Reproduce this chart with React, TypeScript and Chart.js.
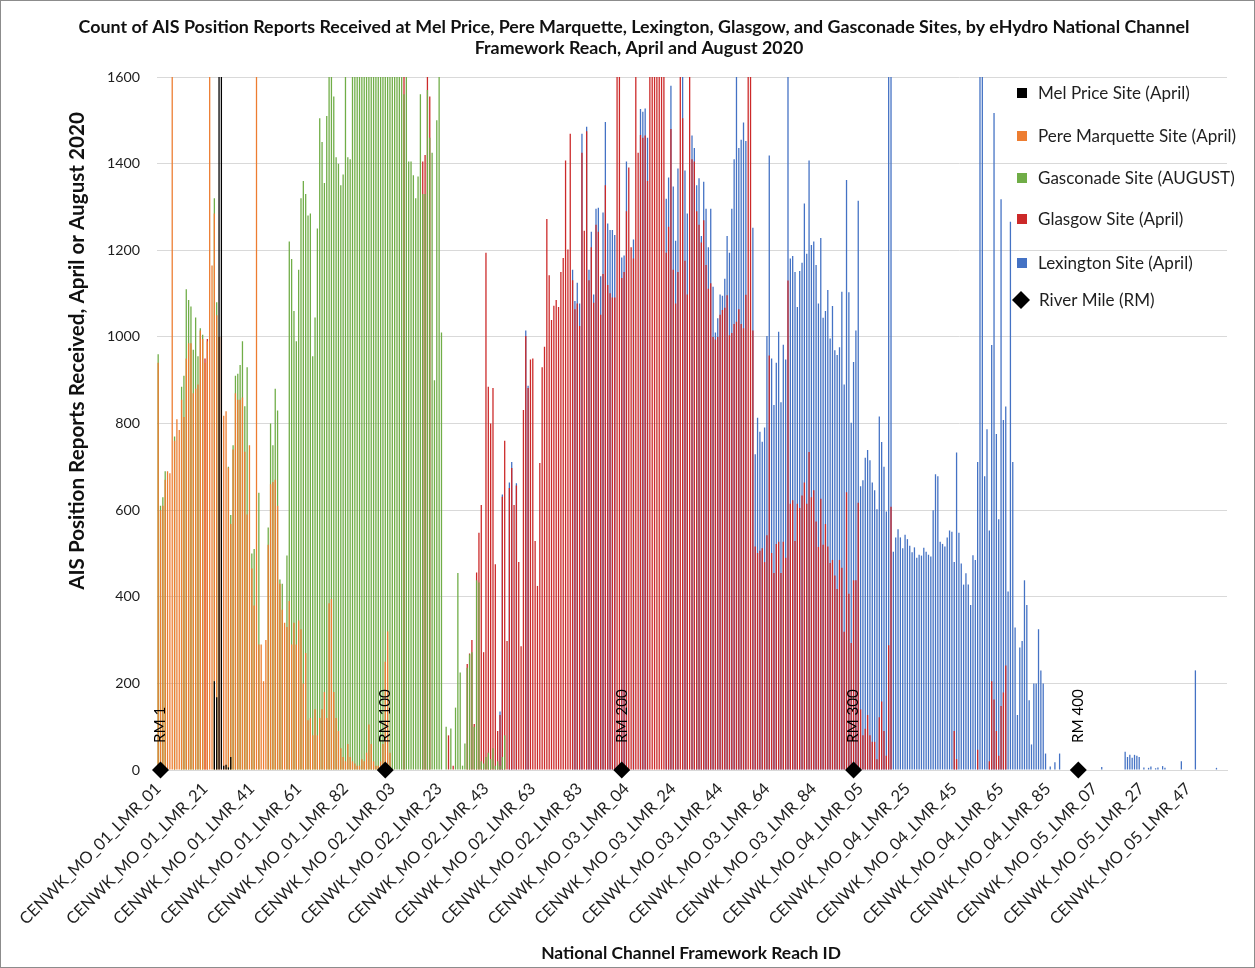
import { useEffect, useRef } from 'react';
import { Chart, registerables } from 'chart.js';

Chart.register(...registerables);

const W = 1255;
const H = 968;
const N = 457;
const FONT = 'Lato, "Noto Sans", sans-serif';

const titleLines = [
  'Count of AIS Position Reports Received at Mel Price, Pere Marquette, Lexington, Glasgow, and Gasconade Sites, by eHydro National Channel',
  'Framework Reach, April and August 2020',
];
const yTitle = 'AIS Position Reports Received, April or August 2020';
const xTitle = 'National Channel Framework Reach ID';

const tickLabels = [
  'CENWK_MO_01_LMR_01', 'CENWK_MO_01_LMR_21', 'CENWK_MO_01_LMR_41', 'CENWK_MO_01_LMR_61', 'CENWK_MO_01_LMR_82',
  'CENWK_MO_02_LMR_03', 'CENWK_MO_02_LMR_23', 'CENWK_MO_02_LMR_43', 'CENWK_MO_02_LMR_63', 'CENWK_MO_02_LMR_83',
  'CENWK_MO_03_LMR_04', 'CENWK_MO_03_LMR_24', 'CENWK_MO_03_LMR_44', 'CENWK_MO_03_LMR_64', 'CENWK_MO_03_LMR_84',
  'CENWK_MO_04_LMR_05', 'CENWK_MO_04_LMR_25', 'CENWK_MO_04_LMR_45', 'CENWK_MO_04_LMR_65', 'CENWK_MO_04_LMR_85',
  'CENWK_MO_05_LMR_07', 'CENWK_MO_05_LMR_27', 'CENWK_MO_05_LMR_47',
];
const tickEvery = 20;

const seriesNames = [
  'Mel Price Site (April)',
  'Pere Marquette Site (April)',
  'Gasconade Site (AUGUST)',
  'Glasgow Site (April)',
  'Lexington Site (April)',
];
const seriesColors = ['#000000', '#ED7D31', '#70AD47', '#CC2929', '#4472C4'];
const rmName = 'River Mile (RM)';

type Seg = [number, (number | null)[]];

const melPrice: Seg[] = [[24, [205, 168, 1800, 1800, 10, 12, 6, 30]]];

const pereMarquette: Seg[] = [[0, [
  940, 600, 610, 670, 690, 685, 1800, 760, 810, 785,
  855, 815, 950, 985, 985, 870, 880, 890, 1015, 995,
  940, 990, 1800, 1165, 1285, 1050, 1000, 1000, 818, 828,
  698, 568, 740, 870, 855, 855, 860, 735, 590, 750,
  465, 380, 1800, 290, 290, 205, 300, 520, 660, 665,
  670, 610, 430, 370, 340, 330, 390, 290, 340, 290,
  345, 325, 200, 270, 115, 120, 80, 140, 80, 120,
  140, 180, 120, 385, 395, 180, 120, 90, 50, 30,
  20, 60, 30, 20, 15, 10, 10, 25, 20, 40,
  105, 60, 20, 10, 10, 20, 60, 250, 320, 40,
]]];

const gasconade: Seg[] = [[0, [
  960, 610, 630, 690, null, null, null, 770, null, null,
  885, 910, 1110, 1085, 1070, 970, 1045, 955, 1020, 1005,
  null, null, null, null, 1320, 1080, null, null, null, null,
  700, 589, 750, 910, 915, 935, 990, 840, 930, null,
  500, 510, null, 640, null, null, null, 560, 800, 750,
  880, 830, 440, 430, null, 495, 1220, 1180, 1060, 990,
  1155, 1320, 1360, 1330, 1280, 1285, 955, 1045, 1250, 1505,
  1450, 1355, 1510, 1800, 1800, 1555, 1415, 1400, 1350, 1375,
  1800, 1415, 1410, 1800, 1800, 1800, 1800, 1800, 1800, 1800,
  1800, 1800, 1800, 1800, 1800, 1800, 1800, 1800, 1800, 1800,
  1800, 1800, 1800, 1800, 1800, 1560, 1800, 1405, 1405, 1373,
  1320, 1370, 1560, 1330, 1330, 1570, 1460, 1425, 900, 1500,
  1800, 1010, null, 100, null, 96, null, 144, 455, 225,
  10, 61, 236, 267, 272, 100, 438, 433, 20, 15,
  30, 40, 25, 50, 10, 20, 10, 30, 80,
]]];

const glasgow: Seg[] = [
  [20, [950, 995]],
  [105, [1800]],
  [113, [1405, 1420, 1800, 1555]],
  [124, [80, null, 10]],
  [132, [
    245, 269, 300, 106, 456, 548, 612, 272, 1194, 885,
    800, 882, 475, 90, 127, 631, 760, 298, 651, 697,
    612, 657, 480, 286, 831, 1002, 882, 948, 950, 529,
    425, 709, 930, 977, 1272, 1142, 1039, 1072, 1085, 1069,
    1150, 1182, 1407, 1202, 1469, 1131, 1064, 1077, 1025, 1425,
    1245, 1475, 1131, 1207, 1079, 1259, 1243, 1051, 1145, 1350,
    1120, 1101, 1091, 1091, 1800, 1800, 1136, 1150, 1290, 1391,
    1207, 1181, 1800, 1425, 1466, 1460, 1465, 1360, 1800, 1800,
    1800, 1800, 1800, 1800, 1800, 1194, 1254, 1480, 1155, 1077,
    1150, 1800, 1505, 1176, 1098, 1800, 1410, 1405, 1290, 1259,
    1218, 1269, 1166, 1111, 1124, 1000, 994, 1000, 1051, 1062,
    1067, 1096, 1004, 1009, 1030, 1035, 1064, 1030, 1020, 1097,
    1800, 1800, 1015, 516, 501, 506, 512, 480, 542, 957,
    501, 455, 522, 527, 455, 527, 490, 1130, 615, 623,
    529, 615, 605, 634, 664, 615, 734, 630, 646, 574,
    515, 626, 520, 568, 516, 478, 485, 449, 418, 485,
    467, 319, 641, 407, 293, 438, 438, 617, 140, 80,
    95, 127, 80, 65, 65, 25, 122, 158, 90, 33,
    288, 608,
  ]],
  [340, [90, 25]],
  [350, [47, null, null, null, null, 20, 205, 163, 90, 33, 148, 179, 241]],
];

const lexington: Seg[] = [
  [146, [135, 636]],
  [150, [664, 711, null, 662]],
  [157, [1015, 887]],
  [177, [
    1155, 1083, 1125, 1077, 1469, null, 1485, 1155, 1243, 1098,
    1296, 1298, 1140, 1287, 1496, 1262, 1247, 1247, 1235, null,
    null, 1183, 1188, 1405, null, null, 1225, null, null, 1526,
    1520, 1527, 1460, null, null, null, null, null, null, null,
    1319, 1368, 1580, 1347, 1222, 1389, null, 1800, 1384, 1285,
    null, 1465, 1436, 1350, 1366, 1233, 1358, 1296, 1207, 1296,
    1116, 1010, 1043, 1098, 1095, 1134, 1233, 1194, 1296, 1410,
    1800, 1436, 1455, 1495, 1452, null, null, 1252, 729, 813,
    781, 758, 791, 1002, 1419, 950, 843, 940, 1012, 849,
    982, 948, 1800, 1181, 1187, 1150, 1069, 1152, 1171, 1308,
    1192, 1407, 1212, 1220, 1166, 1077, 1228, 1044, 1060, 1108,
    996, 1071, 969, 958, 976, 1104, 890, 1362, 1103, 802,
    942, 1015, 1314, 655, 669, 721, 739, 715, 664, 646,
    602, 816, 757, 700, 597, 1800, 1800, 504, 537, 556,
    537, 512, 543, 533, 518, 503, 514, 490, 497, 495,
    513, 504, 497, 493, 600, 683, 678, 527, 522, 516,
    537, 553, 550, 480, 733, 548, 477, 428, 454, 428,
    381, 496, 485, 711, 1800, 1800, 678, 787, 553, 981,
    1517, 776, 579, 1318, 808, 839, 412, 1266, 711, 329,
    127, 283, 298, 438, 381, 161, 59, 200, 200, 325,
    230, 200, 38, null, 8, null, 18, null, 38,
  ]],
  [403, [7]],
  [413, [42, 30, 35, 28, 35, 33, 30]],
  [421, [6, null, 5, 8, null, 4, 6, null, 9, 5]],
  [437, [20]],
  [443, [230]],
  [452, [5]],
];

const rmIndex = [1, 97, 198, 297, 393];
const rmLabels = ['RM 1', 'RM 100', 'RM 200', 'RM 300', 'RM 400'];

function expand(segs: Seg[]): (number | null)[] {
  const out: (number | null)[] = new Array(N).fill(null);
  segs.forEach(([start, vals]) => {
    vals.forEach((v, k) => {
      out[start + k] = v;
    });
  });
  return out;
}

function fitSize(ctx: CanvasRenderingContext2D, text: string, weight: string, target: number) {
  ctx.font = `${weight} 100px ${FONT}`;
  return (100 * target) / ctx.measureText(text).width;
}

export default function App() {
  const ref = useRef<HTMLCanvasElement>(null);

  useEffect(() => {
    document.body.style.margin = '0';
    const canvas = ref.current;
    if (!canvas) return;
    const m = document.createElement('canvas').getContext('2d') as CanvasRenderingContext2D;
    const titleSize = fitSize(m, titleLines[0], 'bold', 1112);
    const yTitleSize = fitSize(m, yTitle, 'bold', 478);
    const xTitleSize = fitSize(m, xTitle, 'bold', 300);
    const legendSize = fitSize(m, seriesNames[0], 'normal', 152);
    const rmSize = fitSize(m, 'RM 100', 'normal', 54);
    const yTickSize = fitSize(m, '1600', 'normal', 33);
    const xTickSize = fitSize(m, tickLabels[0], 'normal', 192);

    const categories = Array.from({ length: N }, (_, i) =>
      i % tickEvery === 0 ? tickLabels[i / tickEvery] ?? '' : ''
    );
    const allSeries = [melPrice, pereMarquette, gasconade, glasgow, lexington];
    const rmData: (number | null)[] = new Array(N).fill(null);
    rmIndex.forEach((i) => {
      rmData[i] = 0;
    });

    const textColor = '#1f1f1f';

    const decor = {
      id: 'decor',
      afterDraw(chart: any) {
        const ctx: CanvasRenderingContext2D = chart.ctx;
        ctx.save();
        ctx.strokeStyle = '#8c8c8c';
        ctx.lineWidth = 1;
        ctx.strokeRect(0.5, 0.5, W - 1, H - 1);

        ctx.fillStyle = '#111111';
        ctx.textAlign = 'center';
        ctx.textBaseline = 'middle';
        ctx.font = `bold ${titleSize}px ${FONT}`;
        ctx.fillText(titleLines[0], 634, 27);
        ctx.fillText(titleLines[1], 639, 48);

        ctx.font = `bold ${xTitleSize}px ${FONT}`;
        ctx.fillText(xTitle, 691, 953);

        ctx.save();
        ctx.translate(77, 351);
        ctx.rotate(-Math.PI / 2);
        ctx.font = `bold ${yTitleSize}px ${FONT}`;
        ctx.fillText(yTitle, 0, 0);
        ctx.restore();

        // River mile labels
        const xs = chart.scales.x;
        const ys = chart.scales.y;
        ctx.fillStyle = '#000000';
        ctx.font = `${rmSize}px ${FONT}`;
        rmIndex.forEach((idx, k) => {
          const px = xs.getPixelForValue(idx);
          const py = ys.getPixelForValue(0) - 27;
          ctx.save();
          ctx.translate(px, py);
          ctx.rotate(-Math.PI / 2);
          ctx.textAlign = 'left';
          ctx.textBaseline = 'middle';
          ctx.fillText(rmLabels[k], 0, 0);
          ctx.restore();
        });

        // Legend
        const legendY = [93, 136, 178, 219, 263];
        ctx.font = `${legendSize}px ${FONT}`;
        ctx.textAlign = 'left';
        ctx.textBaseline = 'middle';
        seriesNames.forEach((name, k) => {
          ctx.fillStyle = seriesColors[k];
          ctx.fillRect(1017, legendY[k] - 5, 10, 10);
          ctx.fillStyle = textColor;
          ctx.fillText(name, 1038, legendY[k]);
        });
        const dy = 300;
        ctx.fillStyle = '#000000';
        ctx.beginPath();
        ctx.moveTo(1021, dy - 9);
        ctx.lineTo(1030, dy);
        ctx.lineTo(1021, dy + 9);
        ctx.lineTo(1012, dy);
        ctx.closePath();
        ctx.fill();
        ctx.fillStyle = textColor;
        ctx.fillText(rmName, 1039, dy);
        ctx.restore();
      },
    };

    const chart = new Chart(canvas, {
      type: 'bar',
      data: {
        labels: categories,
        datasets: [
          ...allSeries.map((segs, k) => ({
            type: 'bar' as const,
            label: seriesNames[k],
            data: expand(segs),
            backgroundColor: seriesColors[k],
            borderWidth: 0,
          })),
          {
            type: 'line' as const,
            label: rmName,
            data: rmData,
            showLine: false,
            pointStyle: 'rectRot',
            pointRadius: 8.5,
            pointBackgroundColor: '#000000',
            pointBorderColor: '#000000',
            pointBorderWidth: 0,
            order: -1,
            clip: false,
          } as any,
        ],
      },
      options: {
        responsive: false,
        animation: false,
        devicePixelRatio: 1,
        layout: { padding: { top: 77, right: 28, left: 0, bottom: 0 } },
        datasets: {
          bar: { grouped: false, barPercentage: 0.55, categoryPercentage: 1 },
        },
        plugins: {
          legend: { display: false },
          tooltip: { enabled: false },
          title: { display: false },
        },
        scales: {
          x: {
            offset: true,
            grid: { display: false, drawTicks: false },
            border: { display: true, color: '#d9d9d9' },
            ticks: {
              autoSkip: false,
              maxRotation: 45,
              minRotation: 45,
              padding: 9,
              color: textColor,
              font: { family: FONT, size: xTickSize },
            },
            afterFit: (s: any) => {
              s.height = 198;
            },
          },
          y: {
            min: 0,
            max: 1600,
            grid: { color: '#d9d9d9', drawTicks: false },
            border: { display: false },
            ticks: {
              stepSize: 200,
              padding: 17,
              color: textColor,
              font: { family: FONT, size: yTickSize },
              callback: (v: any) => String(v),
            },
            afterFit: (s: any) => {
              s.width = 157;
            },
          },
        },
      },
      plugins: [decor],
    });
    return () => chart.destroy();
  }, []);

  return (
    <div style={{ width: W, height: H, position: 'relative' }}>
      <canvas ref={ref} width={W} height={H} style={{ display: 'block', width: W, height: H }} />
    </div>
  );
}
